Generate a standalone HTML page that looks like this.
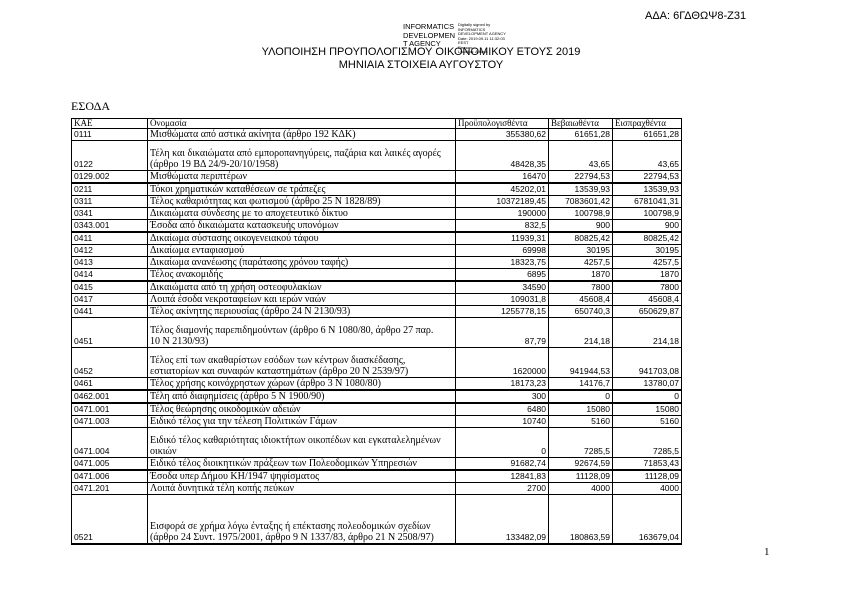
<!DOCTYPE html>
<html><head><meta charset="utf-8"><style>
body{margin:0;width:842px;height:595px;background:#fff;position:relative;overflow:hidden;font-family:"Liberation Sans",sans-serif;color:#000}
.a{position:absolute;white-space:nowrap}
table{position:absolute;left:71px;top:118px;border-collapse:collapse;table-layout:fixed;font-family:"Liberation Serif",serif;font-size:10px;letter-spacing:0}
td{border:1px solid #000;padding:0 2px;vertical-align:bottom;line-height:11px;overflow:hidden;white-space:nowrap}
td:first-child{font-family:"Liberation Sans",sans-serif;font-size:8.5px}
td.n{text-align:right;font-family:"Liberation Sans",sans-serif;font-size:8.5px;letter-spacing:0}
tr{height:12px}
tr.d{height:30px}
tr.t td{border-top:2px solid #000}
tr.h{height:10px}
tr.h td{font-size:9px;line-height:9px;font-family:"Liberation Serif",serif}
</style></head><body>
<div class="a" style="left:645px;top:10px;font-size:11px">ΑΔΑ: 6ΓΔΘΩΨ8-Ζ31</div>
<div class="a" style="left:403px;top:23px;font-size:7.5px;line-height:8.5px">INFORMATICS<br>DEVELOPMEN<br>T AGENCY</div>
<div class="a" style="left:458px;top:23px;font-size:4px;line-height:4.5px">Digitally signed by<br>INFORMATICS<br>DEVELOPMENT AGENCY<br>Date: 2019.09.11 11:32:03<br>EEST<br>Reason:<br>Location: Athens</div>
<div class="a" style="left:0;width:842px;top:46px;text-align:center;font-size:11px;line-height:13px">ΥΛΟΠΟΙΗΣΗ ΠΡΟΥΠΟΛΟΓΙΣΜΟΥ ΟΙΚΟΝΟΜΙΚΟΥ ΕΤΟΥΣ 2019<br>ΜΗΝΙΑΙΑ ΣΤΟΙΧΕΙΑ ΑΥΓΟΥΣΤΟΥ</div>
<div class="a" style="left:71px;top:99px;font-family:'Liberation Serif',serif;font-size:12px">ΕΣΟΔΑ</div>
<table>
<colgroup><col style="width:76px"><col style="width:308px"><col style="width:93px"><col style="width:64px"><col style="width:69px"></colgroup>
<tr class="h"><td>ΚΑΕ</td><td>Ονομασία</td><td>Προϋπολογισθέντα</td><td>Βεβαιωθέντα</td><td>Εισπραχθέντα</td></tr>
<tr><td>0111</td><td>Μισθώματα από αστικά ακίνητα (άρθρο 192 ΚΔΚ)</td><td class="n">355380,62</td><td class="n">61651,28</td><td class="n">61651,28</td></tr>
<tr class="d"><td>0122</td><td>Τέλη και δικαιώματα από εμποροπανηγύρεις, παζάρια και λαικές αγορές<br>(άρθρο 19 ΒΔ 24/9-20/10/1958)</td><td class="n">48428,35</td><td class="n">43,65</td><td class="n">43,65</td></tr>
<tr><td>0129.002</td><td>Μισθώματα περιπτέρων</td><td class="n">16470</td><td class="n">22794,53</td><td class="n">22794,53</td></tr>
<tr class="t"><td>0211</td><td>Τόκοι χρηματικών καταθέσεων σε τράπεζες</td><td class="n">45202,01</td><td class="n">13539,93</td><td class="n">13539,93</td></tr>
<tr><td>0311</td><td>Τέλος καθαριότητας και φωτισμού (άρθρο 25 Ν 1828/89)</td><td class="n">10372189,45</td><td class="n">7083601,42</td><td class="n">6781041,31</td></tr>
<tr><td>0341</td><td>Δικαιώματα σύνδεσης με το αποχετευτικό δίκτυο</td><td class="n">190000</td><td class="n">100798,9</td><td class="n">100798,9</td></tr>
<tr><td>0343.001</td><td>Έσοδα από δικαιώματα κατασκευής υπονόμων</td><td class="n">832,5</td><td class="n">900</td><td class="n">900</td></tr>
<tr class="t"><td>0411</td><td>Δικαίωμα σύστασης οικογενειακού τάφου</td><td class="n">11939,31</td><td class="n">80825,42</td><td class="n">80825,42</td></tr>
<tr><td>0412</td><td>Δικαίωμα ενταφιασμού</td><td class="n">69998</td><td class="n">30195</td><td class="n">30195</td></tr>
<tr><td>0413</td><td>Δικαίωμα ανανέωσης (παράτασης χρόνου ταφής)</td><td class="n">18323,75</td><td class="n">4257,5</td><td class="n">4257,5</td></tr>
<tr><td>0414</td><td>Τέλος ανακομιδής</td><td class="n">6895</td><td class="n">1870</td><td class="n">1870</td></tr>
<tr class="t"><td>0415</td><td>Δικαιώματα από τη χρήση οστεοφυλακίων</td><td class="n">34590</td><td class="n">7800</td><td class="n">7800</td></tr>
<tr><td>0417</td><td>Λοιπά έσοδα νεκροταφείων και ιερών ναών</td><td class="n">109031,8</td><td class="n">45608,4</td><td class="n">45608,4</td></tr>
<tr><td>0441</td><td>Τέλος ακίνητης περιουσίας (άρθρο 24 Ν 2130/93)</td><td class="n">1255778,15</td><td class="n">650740,3</td><td class="n">650629,87</td></tr>
<tr class="d"><td>0451</td><td>Τέλος διαμονής παρεπιδημούντων (άρθρο 6 Ν 1080/80, άρθρο 27 παρ.<br>10 Ν 2130/93)</td><td class="n">87,79</td><td class="n">214,18</td><td class="n">214,18</td></tr>
<tr class="d"><td>0452</td><td>Τέλος επί των ακαθαρίστων εσόδων των κέντρων διασκέδασης,<br>εστιατορίων και συναφών καταστημάτων (άρθρο 20 Ν 2539/97)</td><td class="n">1620000</td><td class="n">941944,53</td><td class="n">941703,08</td></tr>
<tr><td>0461</td><td>Τέλος χρήσης κοινόχρηστων χώρων (άρθρο 3 Ν 1080/80)</td><td class="n">18173,23</td><td class="n">14176,7</td><td class="n">13780,07</td></tr>
<tr class="t"><td>0462.001</td><td>Τέλη από διαφημίσεις (άρθρο 5 Ν 1900/90)</td><td class="n">300</td><td class="n">0</td><td class="n">0</td></tr>
<tr class="t"><td>0471.001</td><td>Τέλος θεώρησης οικοδομικών αδειών</td><td class="n">6480</td><td class="n">15080</td><td class="n">15080</td></tr>
<tr><td>0471.003</td><td>Ειδικό τέλος για την τέλεση Πολιτικών Γάμων</td><td class="n">10740</td><td class="n">5160</td><td class="n">5160</td></tr>
<tr class="d"><td>0471.004</td><td>Ειδικό τέλος καθαριότητας ιδιοκτήτων οικοπέδων και εγκαταλελημένων<br>οικιών</td><td class="n">0</td><td class="n">7285,5</td><td class="n">7285,5</td></tr>
<tr><td>0471.005</td><td>Ειδικό τέλος διοικητικών πράξεων των Πολεοδομικών Υπηρεσιών</td><td class="n">91682,74</td><td class="n">92674,59</td><td class="n">71853,43</td></tr>
<tr class="t"><td>0471.006</td><td>Έσοδα υπερ Δήμου ΚΗ/1947 ψηφίσματος</td><td class="n">12841,83</td><td class="n">11128,09</td><td class="n">11128,09</td></tr>
<tr><td>0471.201</td><td>Λοιπά δυνητικά τέλη κοπής πεύκων</td><td class="n">2700</td><td class="n">4000</td><td class="n">4000</td></tr>
<tr style="height:49px"><td style="border-bottom:2px solid #000">0521</td><td style="border-bottom:2px solid #000">Εισφορά σε χρήμα λόγω ένταξης ή επέκτασης πολεοδομικών σχεδίων<br>(άρθρο 24 Συντ. 1975/2001, άρθρο 9 Ν 1337/83, άρθρο 21 Ν 2508/97)</td><td class="n" style="border-bottom:2px solid #000">133482,09</td><td class="n" style="border-bottom:2px solid #000">180863,59</td><td class="n" style="border-bottom:2px solid #000">163679,04</td></tr>
</table>
<div class="a" style="left:764px;top:546px;font-family:'Liberation Serif',serif;font-size:11px">1</div>
</body></html>
